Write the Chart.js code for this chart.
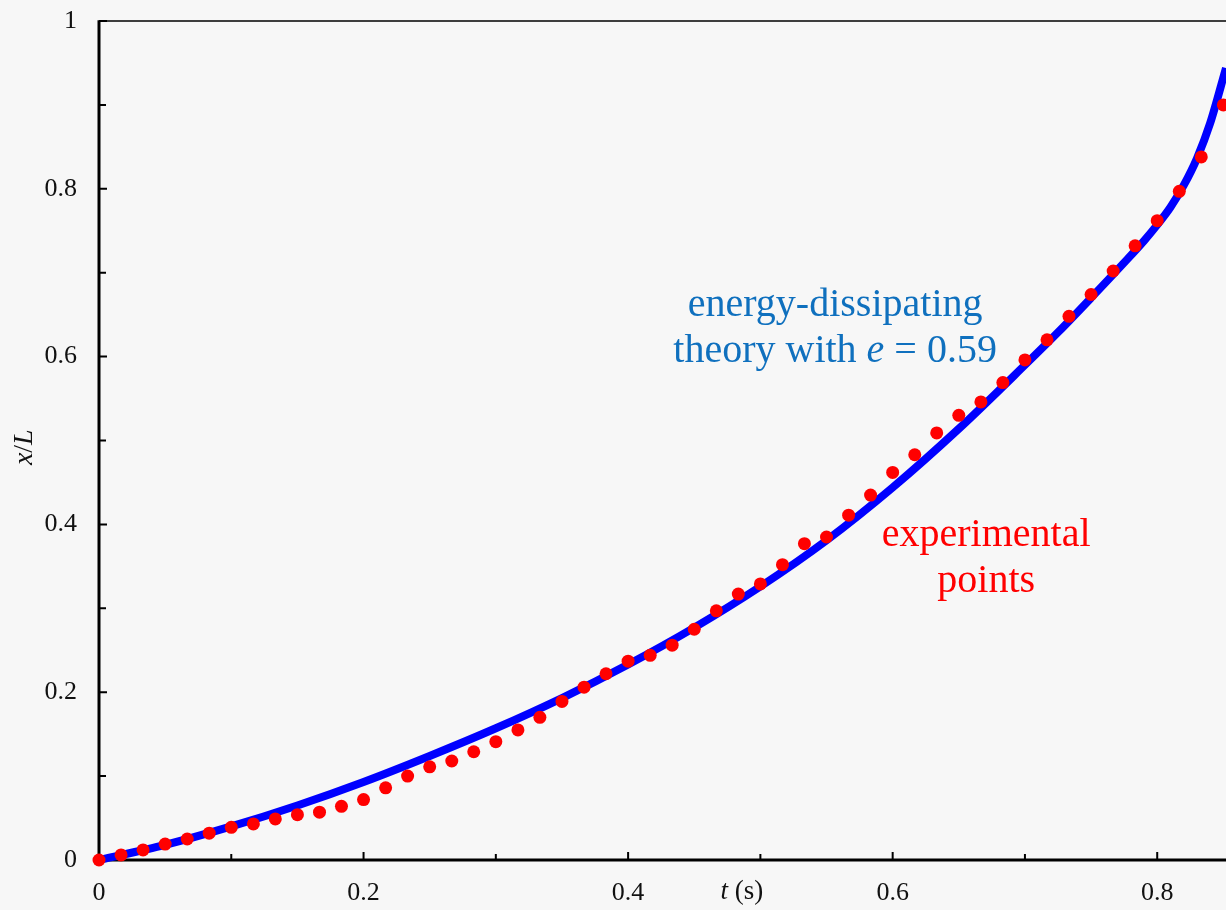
<!DOCTYPE html>
<html lang="en">
<head>
    <meta charset="UTF-8">
    <title>x/L versus t</title>
    <script src="https://cdn.jsdelivr.net/npm/chart.js"></script>
    <style>
        body {
            margin: 0;
            padding: 0;
            background: #f7f7f7;
        }
        canvas {
            display: block;
        }
    </style>
</head>
<body>
    <canvas id="chart" width="1226" height="910"></canvas>

    <script>
        // experimental points, one every 1/60 s
        const tExp = [0, 0.0167, 0.0333, 0.05, 0.0667, 0.0833, 0.1, 0.1167, 0.1333, 0.15,
            0.1667, 0.1833, 0.2, 0.2167, 0.2333, 0.25, 0.2667, 0.2833, 0.3, 0.3167,
            0.3333, 0.35, 0.3667, 0.3833, 0.4, 0.4167, 0.4333, 0.45, 0.4667, 0.4833,
            0.5, 0.5167, 0.5333, 0.55, 0.5667, 0.5833, 0.6, 0.6167, 0.6333, 0.65,
            0.6667, 0.6833, 0.7, 0.7167, 0.7333, 0.75, 0.7667, 0.7833, 0.8, 0.8167,
            0.8333, 0.85];
        const xExp = [0, 0.006, 0.012, 0.019, 0.025, 0.032, 0.039, 0.043, 0.049, 0.054,
            0.057, 0.064, 0.072, 0.086, 0.100, 0.111, 0.118, 0.129, 0.141, 0.155,
            0.170, 0.189, 0.206, 0.222, 0.237, 0.244, 0.256, 0.275, 0.297, 0.317,
            0.329, 0.352, 0.377, 0.385, 0.411, 0.435, 0.462, 0.483, 0.509, 0.530,
            0.546, 0.569, 0.596, 0.620, 0.648, 0.674, 0.702, 0.732, 0.762, 0.797,
            0.838, 0.900];

        // energy-dissipating theory curve, e = 0.59
        const tTheory = [0, 0.05, 0.1, 0.15, 0.2, 0.25, 0.3, 0.35, 0.4, 0.45,
            0.5, 0.55, 0.6, 0.65, 0.7, 0.725, 0.75, 0.775, 0.79, 0.8,
            0.81, 0.82, 0.83, 0.84, 0.852];
        const xTheory = [0, 0.018, 0.040, 0.065, 0.093, 0.124, 0.157, 0.193, 0.233, 0.277,
            0.326, 0.381, 0.444, 0.514, 0.590, 0.629, 0.670, 0.712, 0.738, 0.757,
            0.778, 0.804, 0.836, 0.878, 0.944];

        const xTicks = [0, 0.2, 0.4, 0.6, 0.8];
        const xTickLabels = ['0', '0.2', '0.4', '0.6', '0.8'];
        const xMinorTicks = [0.1, 0.3, 0.5, 0.7];
        const yTicks = [0, 0.2, 0.4, 0.6, 0.8, 1];
        const yTickLabels = ['0', '0.2', '0.4', '0.6', '0.8', '1'];
        const yMinorTicks = [0.1, 0.3, 0.5, 0.7, 0.9];

        const SERIF = '"Liberation Serif", "Times New Roman", serif';
        Chart.defaults.font.family = SERIF;
        Chart.defaults.color = '#111';

        // draws a line of text made of [text, italic] parts, centred on x
        function drawParts(ctx, parts, x, y, size, color) {
            ctx.fillStyle = color;
            ctx.textBaseline = 'alphabetic';
            ctx.textAlign = 'left';
            let total = 0;
            parts.forEach(p => {
                ctx.font = (p[1] ? 'italic ' : '') + size + 'px ' + SERIF;
                total += ctx.measureText(p[0]).width;
            });
            let cx = x - total / 2;
            parts.forEach(p => {
                ctx.font = (p[1] ? 'italic ' : '') + size + 'px ' + SERIF;
                ctx.fillText(p[0], cx, y);
                cx += ctx.measureText(p[0]).width;
            });
        }

        const axesPlugin = {
            id: 'axes',
            beforeDatasetsDraw(chart) {
                const { ctx, chartArea: { left, right, top, bottom }, scales: { x, y } } = chart;
                ctx.save();
                ctx.strokeStyle = '#000';

                // thin top frame line
                ctx.lineWidth = 1.5;
                ctx.beginPath();
                ctx.moveTo(left, top);
                ctx.lineTo(right, top);
                ctx.stroke();

                // thick axes
                ctx.lineWidth = 3;
                ctx.beginPath();
                ctx.moveTo(left, top - 0.75);
                ctx.lineTo(left, bottom + 1.5);
                ctx.moveTo(left - 1.5, bottom);
                ctx.lineTo(right, bottom);
                ctx.stroke();

                // inward tick marks
                ctx.lineWidth = 2;
                ctx.beginPath();
                xTicks.forEach(v => {
                    const px = x.getPixelForValue(v);
                    ctx.moveTo(px, bottom);
                    ctx.lineTo(px, bottom - 8);
                });
                xMinorTicks.forEach(v => {
                    const px = x.getPixelForValue(v);
                    ctx.moveTo(px, bottom);
                    ctx.lineTo(px, bottom - 6);
                });
                yTicks.forEach(v => {
                    const py = y.getPixelForValue(v);
                    ctx.moveTo(left, py);
                    ctx.lineTo(left + 8, py);
                });
                yMinorTicks.forEach(v => {
                    const py = y.getPixelForValue(v);
                    ctx.moveTo(left, py);
                    ctx.lineTo(left + 7, py);
                });
                ctx.stroke();
                ctx.restore();
            },
            afterDraw(chart) {
                const { ctx, scales: { x, y } } = chart;
                ctx.save();

                // axis titles
                drawParts(ctx, [['t', true], [' (s)', false]], x.getPixelForValue(0.486), 899, 27, '#111');
                ctx.translate(32, y.getPixelForValue(0.492));
                ctx.rotate(-Math.PI / 2);
                drawParts(ctx, [['x', true], ['/', false], ['L', true]], 0, 0, 28, '#111');
                ctx.setTransform(1, 0, 0, 1, 0, 0);

                // curve labels
                const blue = '#0f70be';
                const bx = x.getPixelForValue(0.5565);
                drawParts(ctx, [['energy-dissipating', false]], bx, y.getPixelForValue(0.648), 40, blue);
                drawParts(ctx, [['theory with ', false], ['e', true], [' = 0.59', false]], bx, y.getPixelForValue(0.594), 40, blue);

                const rx = x.getPixelForValue(0.6707);
                drawParts(ctx, [['experimental', false]], rx, y.getPixelForValue(0.374), 40, '#ff0000');
                drawParts(ctx, [['points', false]], rx, y.getPixelForValue(0.319), 40, '#ff0000');
                ctx.restore();
            }
        };

        const ctx = document.getElementById('chart').getContext('2d');
        const chart = new Chart(ctx, {
            type: 'scatter',
            data: {
                datasets: [
                    {
                        label: 'experimental points',
                        data: tExp.map((t, i) => ({ x: t, y: xExp[i] })),
                        backgroundColor: '#ff0000',
                        borderWidth: 0,
                        pointRadius: 6.5,
                        clip: false
                    },
                    {
                        label: 'energy-dissipating theory',
                        type: 'line',
                        data: tTheory.map((t, i) => ({ x: t, y: xTheory[i] })),
                        borderColor: '#0000ff',
                        borderWidth: 8,
                        pointRadius: 0,
                        fill: false,
                        cubicInterpolationMode: 'monotone',
                        clip: false
                    }
                ]
            },
            options: {
                responsive: false,
                animation: false,
                events: [],
                layout: {
                    autoPadding: false,
                    padding: { top: 21, right: 0, left: 0, bottom: 0 }
                },
                plugins: {
                    legend: { display: false },
                    tooltip: { enabled: false }
                },
                scales: {
                    x: {
                        type: 'linear',
                        min: 0,
                        max: 0.852,
                        border: { display: false },
                        grid: { display: false, drawTicks: false },
                        afterBuildTicks: s => { s.ticks = xTicks.map(v => ({ value: v })); },
                        afterFit: s => { s.height = 50; s.paddingLeft = 0; s.paddingRight = 0; },
                        ticks: {
                            padding: 18,
                            maxRotation: 0,
                            font: { size: 26 },
                            callback: (v, i) => xTickLabels[i]
                        }
                    },
                    y: {
                        type: 'linear',
                        min: 0,
                        max: 1,
                        border: { display: false },
                        grid: { display: false, drawTicks: false },
                        afterBuildTicks: s => { s.ticks = yTicks.map(v => ({ value: v })); },
                        afterFit: s => { s.width = 99; s.paddingTop = 0; s.paddingBottom = 0; },
                        ticks: {
                            padding: 22,
                            font: { size: 26 },
                            callback: (v, i) => yTickLabels[i]
                        }
                    }
                }
            },
            plugins: [axesPlugin]
        });
    </script>
</body>
</html>
